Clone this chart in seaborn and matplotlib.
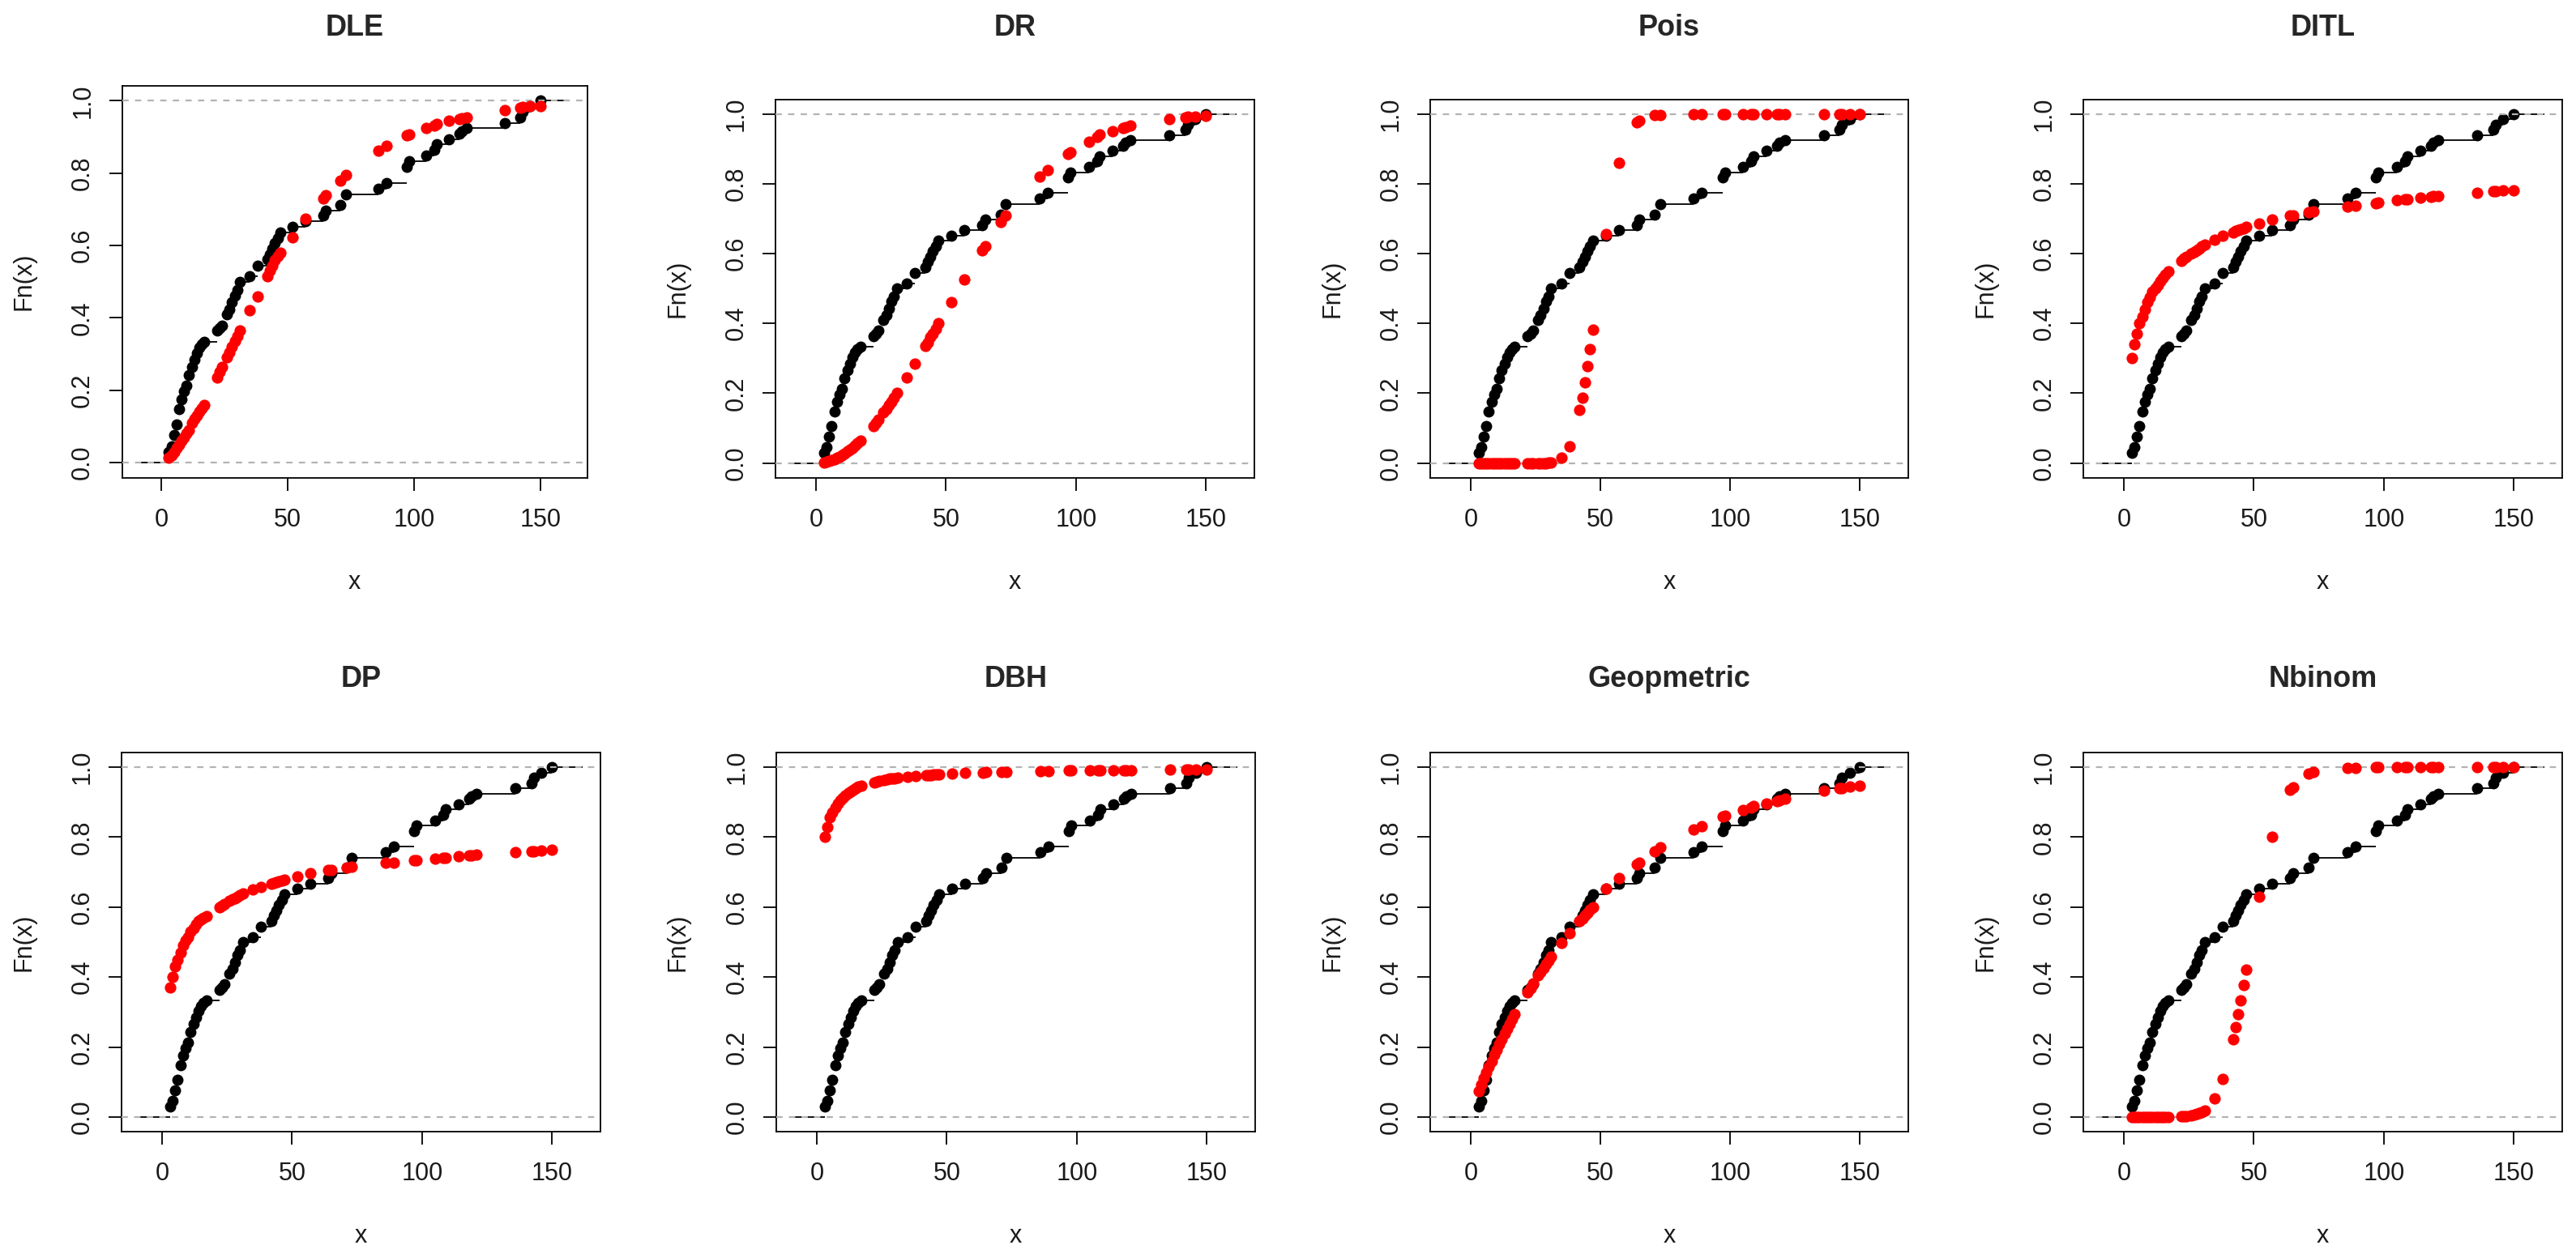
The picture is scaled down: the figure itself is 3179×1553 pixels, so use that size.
import numpy as np
import pandas as pd
import matplotlib
matplotlib.use("Agg")
import matplotlib.pyplot as plt
import seaborn as sns

sns.set_style("ticks")
plt.rcParams["font.family"] = ["Liberation Sans", "DejaVu Sans"]

# observed values (unique) and empirical cdf Fn(x)
x_obs = [3, 4, 5, 6, 7, 8, 9, 10, 11, 12, 13, 14, 15, 16, 17, 22, 23, 24, 26, 27,
         28, 29, 30, 31, 35, 38, 42, 43, 44, 45, 46, 47, 52, 57, 64, 65, 71, 73, 86, 89,
         97, 98, 105, 108, 109, 114, 118, 119, 121, 136, 142, 143, 146, 150]
fn_obs = [0.030, 0.045, 0.075, 0.106, 0.148, 0.175, 0.197, 0.212, 0.242, 0.265,
          0.285, 0.303, 0.318, 0.326, 0.333, 0.364, 0.371, 0.379, 0.409, 0.424,
          0.443, 0.462, 0.477, 0.500, 0.515, 0.545, 0.561, 0.576, 0.591, 0.606,
          0.621, 0.636, 0.652, 0.667, 0.682, 0.697, 0.712, 0.742, 0.758, 0.773,
          0.818, 0.833, 0.848, 0.864, 0.879, 0.894, 0.909, 0.917, 0.924, 0.939,
          0.955, 0.970, 0.985, 1.000]

# fitted cdf at each observed value
cdf_dle = [0.014, 0.020, 0.030, 0.040, 0.050, 0.060, 0.070, 0.080, 0.090, 0.110,
           0.120, 0.130, 0.140, 0.150, 0.160, 0.235, 0.250, 0.265, 0.290, 0.305,
           0.320, 0.335, 0.350, 0.365, 0.420, 0.458, 0.515, 0.530, 0.545, 0.560,
           0.570, 0.580, 0.623, 0.674, 0.730, 0.740, 0.780, 0.795, 0.862, 0.875,
           0.905, 0.907, 0.925, 0.932, 0.935, 0.946, 0.950, 0.952, 0.955, 0.975,
           0.980, 0.982, 0.985, 0.985]
cdf_dr = [0.002, 0.004, 0.006, 0.008, 0.011, 0.015, 0.018, 0.023, 0.027, 0.033,
          0.038, 0.044, 0.050, 0.057, 0.064, 0.105, 0.115, 0.125, 0.145, 0.155,
          0.165, 0.176, 0.187, 0.200, 0.245, 0.284, 0.335, 0.345, 0.360, 0.370,
          0.385, 0.400, 0.460, 0.525, 0.610, 0.620, 0.690, 0.710, 0.820, 0.840,
          0.885, 0.890, 0.920, 0.935, 0.940, 0.950, 0.960, 0.962, 0.966, 0.986,
          0.990, 0.991, 0.993, 0.994]
cdf_pois = [0.0, 0.0, 0.0, 0.0, 0.0, 0.0, 0.0, 0.0, 0.0, 0.0,
            0.0, 0.0, 0.0, 0.0, 0.0, 0.0, 0.0, 0.0, 0.0, 0.0,
            0.0, 0.0, 0.001, 0.002, 0.015, 0.047, 0.152, 0.188, 0.230, 0.278,
            0.326, 0.383, 0.656, 0.861, 0.975, 0.980, 0.996, 0.997, 1.0, 1.0,
            1.0, 1.0, 1.0, 1.0, 1.0, 1.0, 1.0, 1.0, 1.0, 1.0,
            1.0, 1.0, 1.0, 1.0]
cdf_ditl = [0.300, 0.340, 0.370, 0.400, 0.420, 0.440, 0.460, 0.475, 0.490, 0.500,
            0.510, 0.520, 0.530, 0.540, 0.550, 0.580, 0.585, 0.590, 0.600, 0.605,
            0.610, 0.615, 0.620, 0.625, 0.640, 0.650, 0.660, 0.665, 0.668, 0.670,
            0.673, 0.676, 0.687, 0.697, 0.708, 0.710, 0.718, 0.720, 0.735, 0.738,
            0.745, 0.746, 0.752, 0.755, 0.756, 0.760, 0.763, 0.764, 0.765, 0.775,
            0.778, 0.779, 0.780, 0.782]
cdf_dp = [0.370, 0.400, 0.430, 0.450, 0.470, 0.490, 0.505, 0.515, 0.530, 0.540,
          0.550, 0.560, 0.565, 0.570, 0.575, 0.600, 0.605, 0.610, 0.618, 0.622,
          0.626, 0.630, 0.634, 0.638, 0.650, 0.658, 0.667, 0.670, 0.672, 0.674,
          0.676, 0.678, 0.688, 0.696, 0.705, 0.706, 0.713, 0.715, 0.726, 0.728,
          0.733, 0.734, 0.739, 0.741, 0.742, 0.745, 0.747, 0.748, 0.749, 0.756,
          0.759, 0.759, 0.761, 0.763]
cdf_dbh = [0.800, 0.830, 0.857, 0.870, 0.885, 0.895, 0.905, 0.913, 0.920, 0.926,
           0.931, 0.936, 0.940, 0.944, 0.948, 0.957, 0.959, 0.961, 0.964, 0.965,
           0.967, 0.968, 0.969, 0.970, 0.973, 0.975, 0.977, 0.978, 0.978, 0.979,
           0.979, 0.980, 0.982, 0.984, 0.985, 0.986, 0.987, 0.987, 0.989, 0.989,
           0.990, 0.990, 0.991, 0.991, 0.991, 0.992, 0.992, 0.992, 0.992, 0.993,
           0.993, 0.994, 0.994, 0.994]
cdf_geo = [0.074, 0.092, 0.110, 0.127, 0.143, 0.160, 0.177, 0.192, 0.208, 0.223,
           0.238, 0.252, 0.267, 0.281, 0.294, 0.357, 0.369, 0.381, 0.404, 0.415,
           0.426, 0.437, 0.447, 0.458, 0.497, 0.525, 0.560, 0.568, 0.576, 0.584,
           0.592, 0.600, 0.652, 0.684, 0.722, 0.728, 0.760, 0.770, 0.822, 0.832,
           0.860, 0.862, 0.878, 0.885, 0.888, 0.895, 0.903, 0.905, 0.910, 0.933,
           0.940, 0.941, 0.944, 0.946]
cdf_nbinom = [0.0, 0.0, 0.0, 0.0, 0.0, 0.0, 0.0, 0.0, 0.0, 0.0,
              0.0, 0.0, 0.0, 0.0, 0.0, 0.001, 0.002, 0.003, 0.005, 0.006,
              0.008, 0.011, 0.014, 0.018, 0.052, 0.108, 0.221, 0.256, 0.295, 0.334,
              0.377, 0.421, 0.630, 0.800, 0.936, 0.943, 0.981, 0.986, 0.999, 0.999,
              1.0, 1.0, 1.0, 1.0, 1.0, 1.0, 1.0, 1.0, 1.0, 1.0,
              1.0, 1.0, 1.0, 1.0]

titles = ["DLE", "DR", "Pois", "DITL", "DP", "DBH", "Geopmetric", "Nbinom"]
fits = [cdf_dle, cdf_dr, cdf_pois, cdf_ditl, cdf_dp, cdf_dbh, cdf_geo, cdf_nbinom]

W, H = 3179, 1553
fig = plt.figure(figsize=(W / 100, H / 100), dpi=100)

# panel boxes in pixels: left, right, top, bottom
boxes = [(150.5, 724.7, 105.7, 589.7), (957, 1548, 122.5, 589.7),
         (1765, 2355, 122.5, 589.7), (2571, 3162, 122.5, 589.7),
         (150, 741, 929, 1397), (958, 1549, 929, 1397),
         (1765, 2355, 929, 1397), (2571, 3162, 929, 1397)]
title_y = [34, 34, 34, 34, 839, 839, 839, 839]

df_obs = pd.DataFrame({"x": x_obs, "Fn": fn_obs})
xs = np.array(x_obs, dtype=float)
fs = np.array(fn_obs)
dr = 0.08 * (xs.max() - xs.min())

for i, (name, fit) in enumerate(zip(titles, fits)):
    l, r, t, b = boxes[i]
    ax = fig.add_axes([l / W, 1 - b / H, (r - l) / W, (b - t) / H])
    hpx = b - t
    wpx = r - l

    # step function
    ax.hlines(fs[:-1], xs[:-1], xs[1:], color="black", lw=1.3, zorder=2)
    ax.hlines([0, 1], [xs.min() - dr, xs.max()], [xs.min(), xs.max() + dr],
              color="black", lw=1.3, zorder=2)
    sns.scatterplot(data=df_obs, x="x", y="Fn", ax=ax, color="black", s=100,
                    linewidth=0, zorder=3)
    ax.axhline(0, color="#b3b3b3", lw=1.6, ls=(0, (3.5, 3.5)), zorder=4)
    ax.axhline(1, color="#b3b3b3", lw=1.6, ls=(0, (3.5, 3.5)), zorder=4)
    df_fit = pd.DataFrame({"x": x_obs, "F": fit})
    sns.scatterplot(data=df_fit, x="x", y="F", ax=ax, color="red", s=105,
                    linewidth=0, zorder=5)

    ax.set_xlim(-15.6, 168.6)
    ax.set_ylim(-0.042, 1.042)
    ax.set_xticks([0, 50, 100, 150])
    ax.set_yticks([0.0, 0.2, 0.4, 0.6, 0.8, 1.0])
    ax.set_yticklabels(["0.0", "0.2", "0.4", "0.6", "0.8", "1.0"])
    ax.tick_params(axis="both", length=11.5, width=1.3, color="black",
                   labelsize=22, labelcolor="#1a1a1a")
    ax.tick_params(axis="x", pad=15)
    ax.tick_params(axis="y", pad=12.5, labelrotation=90)
    for lab in ax.get_yticklabels():
        lab.set_va("center")
    for sp in ax.spines.values():
        sp.set_visible(True)
        sp.set_linewidth(1.3)
        sp.set_color("black")

    ax.set_xlabel("x", fontsize=22, color="#1a1a1a")
    ax.set_ylabel("Fn(x)", fontsize=22, color="#1a1a1a")
    ax.xaxis.label.set_va("center")
    ax.yaxis.label.set_va("center")
    ax.xaxis.set_label_coords(0.5, -129 / hpx)
    ax.yaxis.set_label_coords(-121 / wpx, 0.5)

    fig.text((l + r) / 2 / W, 1 - title_y[i] / H, name, ha="center",
             va="center", fontsize=26, fontweight="bold")

fig.savefig("out.png", dpi=100, facecolor="white")
